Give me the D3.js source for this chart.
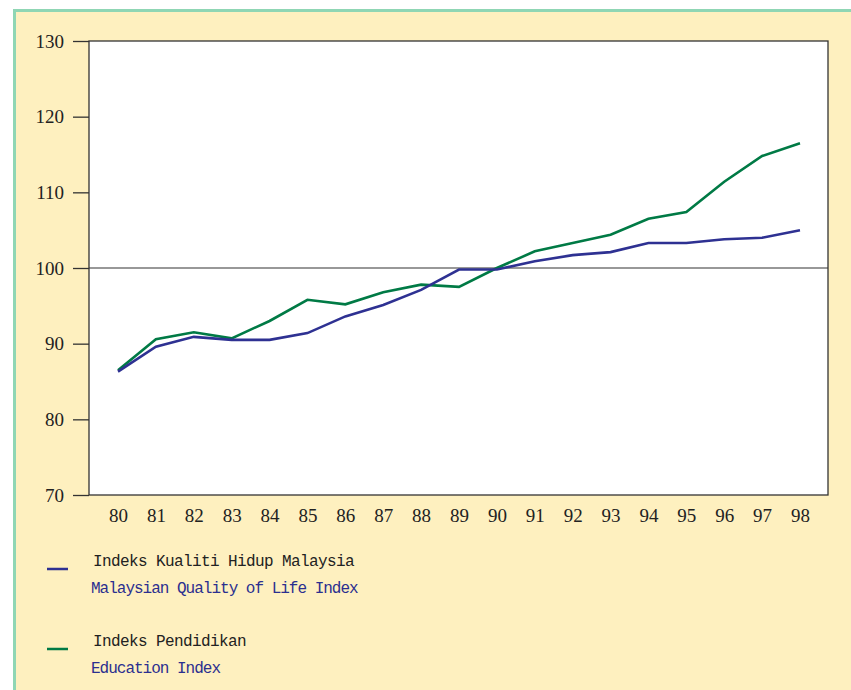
<!DOCTYPE html>
<html>
<head>
<meta charset="utf-8">
<script src="https://cdn.jsdelivr.net/npm/d3@7"></script>
<style>
  body { margin: 0; background: #fff; }
  svg { display: block; }
</style>
</head>
<body>
<svg id="chart" width="851" height="690"></svg>
<script>
// years along the bottom (19xx)
var years = ["80","81","82","83","84","85","86","87","88","89","90","91","92","93","94","95","96","97","98"];
// Malaysian Quality of Life Index
var qualityIndex = [86.3, 89.6, 90.9, 90.5, 90.5, 91.4, 93.6, 95.1, 97.1, 99.8, 99.8, 100.9, 101.7, 102.1, 103.3, 103.3, 103.8, 104.0, 105.0];
// Education Index
var educationIndex = [86.5, 90.6, 91.5, 90.7, 93.0, 95.8, 95.2, 96.8, 97.8, 97.5, 100.0, 102.2, 103.3, 104.4, 106.5, 107.4, 111.4, 114.8, 116.5];
var yTicks = [70, 80, 90, 100, 110, 120, 130];

var legendItems = [
    {malay: "Indeks Kualiti Hidup Malaysia", english: "Malaysian Quality of Life Index", color: "#2e3192"},
    {malay: "Indeks Pendidikan", english: "Education Index", color: "#007a45"}
];

var svg = d3.select("#chart");

// background panel + teal frame
svg.append("rect").attr("x", 0).attr("y", 0).attr("width", 851).attr("height", 690).attr("fill", "#fef0bf");
svg.append("rect").attr("x", 0).attr("y", 0).attr("width", 851).attr("height", 9).attr("fill", "#ffffff");
svg.append("rect").attr("x", 0).attr("y", 0).attr("width", 13).attr("height", 690).attr("fill", "#ffffff");
svg.append("line").attr("x1", 13).attr("x2", 851).attr("y1", 10.5).attr("y2", 10.5)
    .attr("stroke", "#8fd6b4").attr("stroke-width", 3);
svg.append("line").attr("x1", 14.5).attr("x2", 14.5).attr("y1", 9).attr("y2", 690)
    .attr("stroke", "#8fd6b4").attr("stroke-width", 3);

var plotLeft = 89, plotRight = 828, plotTop = 41, plotBottom = 495;

var x = d3.scalePoint().domain(years).range([118, 800]);
var y = d3.scaleLinear().domain([70, 130]).range([plotBottom, plotTop]);

// plot area
svg.append("rect")
    .attr("x", plotLeft).attr("y", plotTop)
    .attr("width", plotRight - plotLeft).attr("height", plotBottom - plotTop)
    .attr("fill", "#ffffff").attr("stroke", "#333").attr("stroke-width", 1.3);

// reference line at 100
svg.append("line")
    .attr("x1", plotLeft).attr("x2", plotRight)
    .attr("y1", y(100)).attr("y2", y(100))
    .attr("stroke", "#333").attr("stroke-width", 1.2);

// y axis
var yAxis = d3.axisLeft(y).tickValues(yTicks).tickSize(16).tickPadding(9);
var yg = svg.append("g").attr("transform", "translate(" + plotLeft + ",0)").call(yAxis);
yg.select(".domain").remove();
yg.selectAll(".tick line").attr("stroke", "#333").attr("stroke-width", 1.3);
yg.selectAll(".tick text")
    .attr("font-family", "'Liberation Serif', 'Times New Roman', serif")
    .attr("font-size", 19).attr("fill", "#222");

// x axis labels only
var xAxis = d3.axisBottom(x).tickSize(0).tickPadding(14);
var xg = svg.append("g").attr("transform", "translate(0," + plotBottom + ")").call(xAxis);
xg.select(".domain").remove();
xg.selectAll(".tick text")
    .attr("font-family", "'Liberation Serif', 'Times New Roman', serif")
    .attr("font-size", 19).attr("fill", "#222");

var line = d3.line()
    .x(function (d, i) { return x(years[i]); })
    .y(function (d) { return y(d); });

svg.append("path").datum(educationIndex)
    .attr("d", line).attr("fill", "none")
    .attr("stroke", "#007a45").attr("stroke-width", 2.6);
svg.append("path").datum(qualityIndex)
    .attr("d", line).attr("fill", "none")
    .attr("stroke", "#2e3192").attr("stroke-width", 2.6);

// legend
var lg = svg.selectAll(".legend").data(legendItems).enter().append("g")
    .attr("class", "legend")
    .attr("transform", function (d, i) { return "translate(0," + (i * 80) + ")"; });
lg.append("line")
    .attr("x1", 47).attr("x2", 68).attr("y1", 569).attr("y2", 569)
    .attr("stroke", function (d) { return d.color; }).attr("stroke-width", 2.5);
lg.append("text")
    .attr("x", 93).attr("y", 566)
    .attr("font-family", "'Liberation Mono', 'Courier New', monospace")
    .attr("font-size", 16).attr("fill", "#222")
    .attr("letter-spacing", -0.6)
    .text(function (d) { return d.malay; });
lg.append("text")
    .attr("x", 91).attr("y", 593)
    .attr("font-family", "'Liberation Mono', 'Courier New', monospace")
    .attr("font-size", 16).attr("fill", "#2b2f8f")
    .attr("letter-spacing", -1)
    .text(function (d) { return d.english; });
</script>
</body>
</html>
